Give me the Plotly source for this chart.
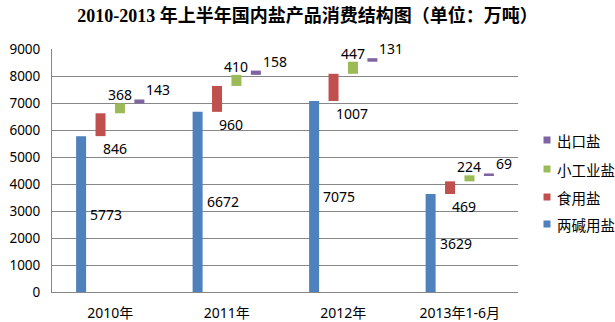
import plotly.graph_objects as go

categories = ["2010年", "2011年", "2012年", "2013年1-6月"]
series_names = ["两碱用盐", "食用盐", "小工业盐", "出口盐"]
liangjian = [5773, 6672, 7075, 3629]
shiyong = [846, 960, 1007, 469]
xiaogongye = [368, 410, 447, 224]
chukou = [143, 158, 131, 69]
y_ticks = [0, 1000, 2000, 3000, 4000, 5000, 6000, 7000, 8000, 9000]

colors = ["#4F81BD", "#C0504D", "#9BBB59", "#8064A2"]
values = [liangjian, shiyong, xiaogongye, chukou]

# cumulative bases (waterfall-like)
bases = []
run = [0] * len(categories)
for v in values:
    bases.append(list(run))
    run = [r + x for r, x in zip(run, v)]

xs = list(range(len(categories)))
BARGAP = 0.333
BARGROUPGAP = 0.485
slot = (1 - BARGAP) / 4
half_w = slot * (1 - BARGROUPGAP) / 2
offsets = [(-1.5 + k) * slot for k in range(4)]

fig = go.Figure()
for k in range(4):
    fig.add_trace(go.Bar(
        x=xs, y=values[k], base=bases[k], name=series_names[k],
        marker=dict(color=colors[k], line=dict(width=0)),
        showlegend=False, hoverinfo="skip",
    ))

lab_font = dict(family="Noto Sans, DejaVu Sans", size=14, color="#000000")
ann = []
for i in xs:
    # blue: right of bar, middle
    ann.append(dict(x=i + offsets[0] + half_w, y=liangjian[i] / 2, xref="x", yref="y",
                    text=str(liangjian[i]), showarrow=False, xanchor="left", yanchor="middle",
                    xshift=2, font=lab_font))
    # red: below bar bottom
    ann.append(dict(x=i + offsets[1], y=bases[1][i], xref="x", yref="y",
                    text=str(shiyong[i]), showarrow=False, xanchor="left", yanchor="top",
                    yshift=-1, font=lab_font))
    # green: above
    ann.append(dict(x=i + offsets[2], y=bases[2][i] + xiaogongye[i], xref="x", yref="y",
                    text=str(xiaogongye[i]), showarrow=False, xanchor="center", yanchor="bottom",
                    yshift=-3, font=lab_font))
    # purple: above right
    ann.append(dict(x=i + offsets[3] + half_w, y=bases[3][i] + chukou[i], xref="x", yref="y",
                    text=str(chukou[i]), showarrow=False, xanchor="left", yanchor="bottom",
                    yshift=-2, font=lab_font))

# manual legend (reversed order)
L, R, T, B = 52, 518, 49, 292
pw, ph = R - L, B - T
leg_y = [224, 197, 169, 140]
shapes = []
for k in range(4):
    yp = (B - leg_y[k]) / ph
    shapes.append(dict(type="rect", xref="paper", yref="paper",
                       xsizemode="pixel", ysizemode="pixel",
                       xanchor=(547 - L) / pw, yanchor=yp,
                       x0=-3.5, x1=3.5, y0=-3.5, y1=3.5,
                       fillcolor=colors[k], line=dict(width=0)))
    ann.append(dict(x=(555 - L) / pw, y=yp, xref="paper", yref="paper",
                    text=series_names[k], showarrow=False, xanchor="left", yanchor="middle",
                    font=dict(family="Noto Sans CJK SC", size=14.5, color="#000000")))

fig.update_layout(
    width=615, height=322,
    margin=dict(l=L, r=615 - R, t=T, b=322 - B, autoexpand=False),
    paper_bgcolor="white", plot_bgcolor="white",
    barmode="group", bargap=BARGAP, bargroupgap=BARGROUPGAP,
    title=dict(text="<b>2010-2013 年上半年国内盐产品消费结构图（单位：万吨）</b>",
               x=0.5, xanchor="center", y=1 - 16 / 322, yanchor="middle",
               font=dict(family="Liberation Serif, Noto Sans CJK SC", size=18, color="#000000")),
    xaxis=dict(range=[-0.5, 3.5], tickvals=xs, ticktext=categories, automargin=False,
               showline=True, linecolor="#878787", linewidth=1, showgrid=False,
               ticks="", ticklabelstandoff=8, zeroline=False,
               tickfont=dict(family="Noto Sans, Noto Sans CJK SC", size=14, color="#000000")),
    yaxis=dict(range=[0, 9000], tickvals=y_ticks, showgrid=True, gridcolor="#878787",
               gridwidth=1, showline=True, linecolor="#878787", linewidth=1, automargin=False,
               zeroline=False, ticks="", ticklabelstandoff=8,
               tickfont=dict(family="Noto Sans", size=13.5, color="#000000")),
    annotations=ann, shapes=shapes, showlegend=False,
)

fig.write_html("out.html")
